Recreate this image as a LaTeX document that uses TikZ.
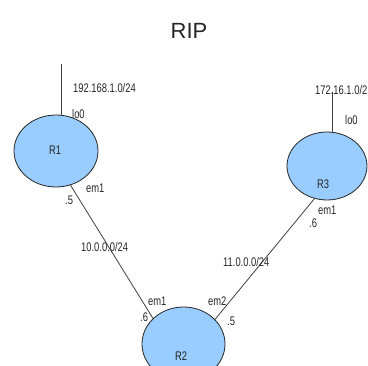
\documentclass[tikz,border=0pt]{standalone}
\usepackage{fontspec}
\setmainfont{Liberation Sans}
\newfontfamily\labelfont[FakeStretch=0.75]{Liberation Sans}
\usetikzlibrary{shapes.geometric}
\definecolor{routerfill}{RGB}{153,204,255}
\definecolor{wire}{RGB}{64,64,64}
\begin{document}
\begin{tikzpicture}[x=1pt,y=-1pt,
  router/.style={ellipse, draw=black!85, line width=0.8pt, fill=routerfill, inner sep=0pt},
  lbl/.style={anchor=base west, inner sep=0pt, font=\labelfont\fontsize{12.5}{12.5}\selectfont, text=black!85},
  rname/.style={anchor=base, inner sep=0pt, font=\labelfont\fontsize{12.5}{12.5}\selectfont, text=black!85},
  link/.style={draw=wire, line width=0.8pt}]
\useasboundingbox (0,0) rectangle (368,366);

% title
\node[anchor=base, inner sep=0pt, font=\fontsize{22}{22}\selectfont, text=black!85] (title) at (189,39) {RIP};

% routers
\node[router, minimum width=84pt, minimum height=72pt] (R1) at (56,151) {};
\node[router, minimum width=83pt, minimum height=74pt] (R2) at (183.5,344) {};
\node[router, minimum width=80pt, minimum height=68pt] (R3) at (327,166) {};
\node[rname] (n1) at (55,155) {R1};
\node[rname] (n2) at (181,361) {R2};
\node[rname] (n3) at (323,189) {R3};

% loopback stubs
\coordinate (lo1) at (61,64);
\coordinate (lo3) at (332,92);
\draw[link] (lo1) -- (lo1 |- R1.north);
\draw[link] (lo3) -- (lo3 |- R3.north);

% links
\draw[link] (R1.-67.6) -- (R2.140.5);
\draw[link] (R3.-111) -- (R2.38);

% addresses and interfaces
\node[lbl] (net1) at (73,93) {192.168.1.0/24};
\node[lbl] (lo1l) at (72,119) {lo0};
\node[lbl] (net3) at (315,95) {172.16.1.0/2};
\node[lbl] (lo3l) at (345,125) {lo0};
\node[lbl] (e1r1) at (86,193) {em1};
\node[lbl] (a1r1) at (65,205) {.5};
\node[lbl] (netA) at (81,252) {10.0.0.0/24};
\node[lbl] (netB) at (223,267) {11.0.0.0/24};
\node[lbl] (e1r3) at (318,215) {em1};
\node[lbl] (a1r3) at (309,228) {.6};
\node[lbl] (e1r2) at (148,306) {em1};
\node[lbl] (a1r2) at (140,322) {.6};
\node[lbl] (e2r2) at (208,306) {em2};
\node[lbl] (a2r2) at (227,326) {.5};
\end{tikzpicture}
\end{document}
